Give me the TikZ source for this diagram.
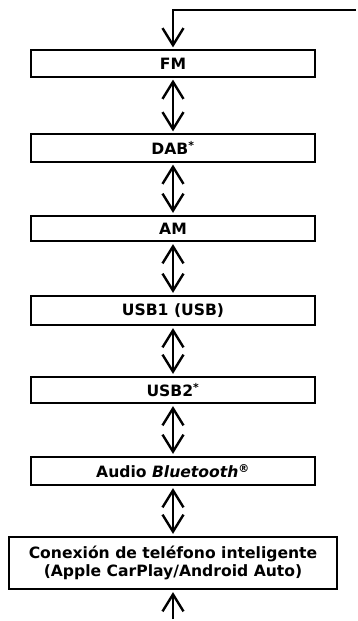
\documentclass[tikz,border=0pt]{standalone}
\usepackage{fontspec}
\setmainfont{DejaVu Sans}
\usetikzlibrary{arrows.meta}
\begin{document}
\begin{tikzpicture}[x=1pt, y=-1pt, line width=2.4pt,
	>={Straight Barb[length=17pt, width=21pt]},
	modo/.style={draw, line width=2.2pt, minimum width=284pt, inner sep=0pt,
		font=\bfseries\fontsize{15.6}{18.5}\selectfont},
	fino/.style={line width=1.2pt},
	flecha/.style={shorten >=2pt, shorten <=2pt}]
	\useasboundingbox (0,0) rectangle (358,621);
	% ==================== cajas de modo ====================
	\node[modo, fino, minimum height=27pt] (fm) at (173,63.5) {FM};
	\node[modo, fino, minimum height=28pt] (dab) at (173,148) {DAB\textsuperscript{*}};
	\node[modo, minimum height=25pt] (am) at (173,228.5) {AM};
	\node[modo, minimum height=29pt] (usbuno) at (173,310.5) {USB1 (USB)};
	\node[modo, minimum height=26pt] (usbdos) at (173,390) {USB2\textsuperscript{*}};
	\node[modo, minimum height=28pt] (bt) at (173,471) {Audio \textit{Bluetooth}\textsuperscript{®}};
	\node[modo, minimum width=328pt, minimum height=52pt, align=center] (movil) at (173,563)
		{Conexión de teléfono inteligente\\(Apple CarPlay/Android Auto)};
	
	% ==================== flechas ====================
	\coordinate (entrada) at (358,10);
	\coordinate (salida) at (173,621);
	\draw[->, flecha] (entrada) -| (fm.north);
	\draw[<->, flecha] (fm) -- (dab);
	\draw[<->, flecha] (dab) -- (am);
	\draw[<->, flecha] (am) -- (usbuno);
	\draw[<->, flecha] (usbuno) -- (usbdos);
	\draw[<->, flecha] (usbdos) -- (bt);
	\draw[<->, flecha] (bt) -- (movil);
	\draw[->, flecha] (salida) -- (movil);
\end{tikzpicture}
\end{document}
